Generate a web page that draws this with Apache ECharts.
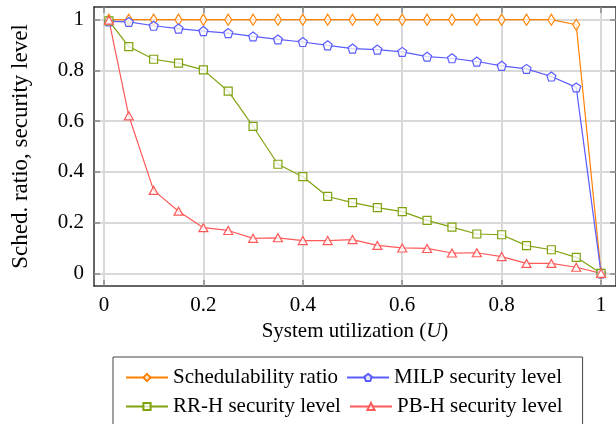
<!DOCTYPE html>
<html>
<head>
<meta charset="utf-8">
<script src="https://cdn.jsdelivr.net/npm/echarts@6/dist/echarts.min.js"></script>
<style>
html, body { margin: 0; padding: 0; background: #fff; }
#chart { width: 616px; height: 424px; }
</style>
</head>
<body>
<div id="chart"></div>
<script>
// system utilization U
var utilization = [0.01, 0.05, 0.1, 0.15, 0.2, 0.25, 0.3, 0.35, 0.4, 0.45, 0.5,
                   0.55, 0.6, 0.65, 0.7, 0.75, 0.8, 0.85, 0.9, 0.95, 1.0]
var schedRatio = [1, 1, 1, 1, 1, 1, 1, 1, 1, 1, 1, 1, 1, 1, 1, 1, 1, 1, 1, 0.98, 0]
var milpLevel = [0.993, 0.991, 0.976, 0.965, 0.955, 0.947, 0.934, 0.922, 0.912, 0.899, 0.886,
                 0.882, 0.873, 0.854, 0.848, 0.835, 0.818, 0.806, 0.776, 0.733, 0]
var rrhLevel = [0.995, 0.894, 0.844, 0.829, 0.802, 0.718, 0.579, 0.430, 0.381, 0.303, 0.279,
                0.259, 0.243, 0.209, 0.182, 0.155, 0.152, 0.109, 0.093, 0.063, 0]
var pbhLevel = [0.998, 0.621, 0.327, 0.245, 0.180, 0.169, 0.138, 0.140, 0.129, 0.129, 0.133,
                0.110, 0.100, 0.098, 0.080, 0.081, 0.066, 0.039, 0.039, 0.024, 0]
var xTicks = [0, 0.2, 0.4, 0.6, 0.8, 1]
var yTicks = [0, 0.2, 0.4, 0.6, 0.8, 1]

var FONT = '"Liberation Serif", "Times New Roman", serif'
var PENTAGON = 'path://M0,-1 L0.951,-0.309 L0.588,0.809 L-0.588,0.809 L-0.951,-0.309 Z'

function pairs(ys) {
    var out = []
    for (var i = 0; i < utilization.length; i++) out.push([utilization[i], ys[i]])
    return out
}

function makeSeries(name, ys, color, symbol, size) {
    return {
        name: name,
        type: 'line',
        data: pairs(ys),
        symbol: symbol,
        symbolSize: size,
        lineStyle: { color: color, width: 1.2 },
        itemStyle: { color: 'rgba(255,255,255,0.75)', borderColor: color, borderWidth: 1.2 },
        emphasis: { disabled: true },
    }
}

function frameAxis(extra) {
    return Object.assign({
        type: 'value',
        axisLine: { show: true, onZero: false, lineStyle: { color: '#333', width: 1.5 } },
        axisTick: { show: true, inside: true, length: 6, lineStyle: { color: '#8a8a8a', width: 1.5 } },
        axisLabel: { show: false },
        splitLine: { show: false },
    }, extra)
}

var chart = echarts.init(document.getElementById('chart'))
chart.setOption({
    animation: false,
    backgroundColor: '#fff',
    grid: { left: 94, top: 7, width: 530, height: 279, containLabel: false },
    xAxis: [
        frameAxis({
            min: -0.02, max: 1.03, position: 'bottom',
            axisTick: { show: true, inside: true, length: 6, customValues: xTicks, lineStyle: { color: '#8a8a8a', width: 1.5 } },
            axisLabel: { show: true, customValues: xTicks, margin: 9, fontFamily: FONT, fontSize: 21, color: '#000' },
            splitLine: { show: true, lineStyle: { color: '#d9d9d9', width: 2 } },
            name: 'System utilization ({i|U})',
            nameLocation: 'middle',
            nameGap: 35,
            nameTextStyle: { fontFamily: FONT, fontSize: 21, color: '#000',
                rich: { i: { fontFamily: FONT, fontSize: 21, fontStyle: 'italic', color: '#000' } } },
        }),
        frameAxis({
            min: -0.02, max: 1.03, position: 'top',
            axisTick: { show: true, inside: true, length: 6, customValues: xTicks, lineStyle: { color: '#8a8a8a', width: 1.5 } },
        }),
    ],
    yAxis: [
        frameAxis({
            min: -0.05, max: 1.05, position: 'left',
            axisTick: { show: true, inside: true, length: 6, customValues: yTicks, lineStyle: { color: '#8a8a8a', width: 1.5 } },
            axisLabel: { show: true, customValues: yTicks, margin: 10, fontFamily: FONT, fontSize: 21, color: '#000' },
            splitLine: { show: true, lineStyle: { color: '#d9d9d9', width: 2 } },
            name: 'Sched. ratio, security level',
            nameLocation: 'middle',
            nameGap: 62,
            nameTextStyle: { fontFamily: FONT, fontSize: 23, color: '#000' },
        }),
        frameAxis({
            min: -0.05, max: 1.05, position: 'right',
            axisTick: { show: true, inside: true, length: 6, customValues: yTicks, lineStyle: { color: '#8a8a8a', width: 1.5 } },
        }),
    ],
    legend: {
        left: 113,
        top: 357,
        width: 469,
        padding: [10, 20, 22, 12],
        itemWidth: 42,
        itemHeight: 9,
        itemGap: 8,
        borderColor: '#444',
        borderWidth: 1,
        textStyle: { fontFamily: FONT, fontSize: 21, color: '#000' },
        data: ['Schedulability ratio', 'MILP security level', 'RR-H security level', 'PB-H security level'],
    },
    series: [
        makeSeries('Schedulability ratio', schedRatio, '#ff8000', 'diamond', [7, 11]),
        makeSeries('MILP security level', milpLevel, '#5c5cff', PENTAGON, [9, 9]),
        makeSeries('RR-H security level', rrhLevel, '#7fa30f', 'rect', [8, 8]),
        makeSeries('PB-H security level', pbhLevel, '#ff5a5a', 'triangle', [9, 8]),
    ],
})
</script>
</body>
</html>
